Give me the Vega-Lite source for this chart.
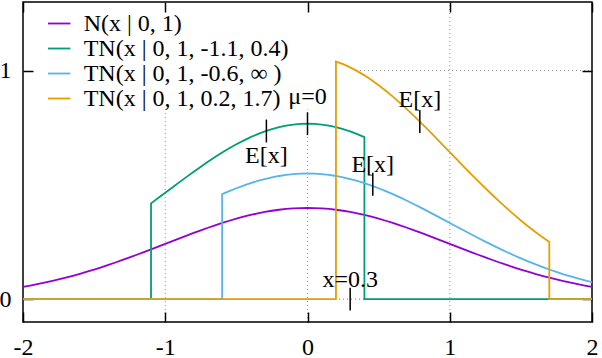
{
  "$schema": "https://vega.github.io/schema/vega-lite/v6.json",
  "width": 569,
  "height": 320,
  "autosize": {"type": "none"},
  "padding": {"left": 23, "top": 2, "right": 10, "bottom": 36},
  "background": "white",
  "view": {"stroke": "black", "strokeWidth": 1.5},
  "config": {
    "font": "Liberation Serif",
    "axis": {"labelFont": "Liberation Serif", "labelFontSize": 24, "labelColor": "black", "tickColor": "black", "tickWidth": 1.5, "grid": false, "domain": false, "labelFlush": false, "labelOverlap": false, "labelBound": false}
  },
  "datasets": {
    "curves": [
      {"s":"a","i":0,"x":-2,"y":0.05399},{"s":"a","i":1,"x":-1.95,"y":0.0596},{"s":"a","i":2,"x":-1.9,"y":0.06562},{"s":"a","i":3,"x":-1.85,"y":0.07207},{"s":"a","i":4,"x":-1.8,"y":0.07895},{"s":"a","i":5,"x":-1.75,"y":0.08628},{"s":"a","i":6,"x":-1.7,"y":0.09405},{"s":"a","i":7,"x":-1.65,"y":0.10227},{"s":"a","i":8,"x":-1.6,"y":0.11092},{"s":"a","i":9,"x":-1.55,"y":0.12001},{"s":"a","i":10,"x":-1.5,"y":0.12952},{"s":"a","i":11,"x":-1.45,"y":0.13943},{"s":"a","i":12,"x":-1.4,"y":0.14973},{"s":"a","i":13,"x":-1.35,"y":0.16038},{"s":"a","i":14,"x":-1.3,"y":0.17137},{"s":"a","i":15,"x":-1.25,"y":0.18265},{"s":"a","i":16,"x":-1.2,"y":0.19419},{"s":"a","i":17,"x":-1.15,"y":0.20594},{"s":"a","i":18,"x":-1.1,"y":0.21785},{"s":"a","i":19,"x":-1.05,"y":0.22988},{"s":"a","i":20,"x":-1,"y":0.24197},{"s":"a","i":21,"x":-0.95,"y":0.25406},{"s":"a","i":22,"x":-0.9,"y":0.26609},{"s":"a","i":23,"x":-0.85,"y":0.27798},{"s":"a","i":24,"x":-0.8,"y":0.28969},{"s":"a","i":25,"x":-0.75,"y":0.30114},{"s":"a","i":26,"x":-0.7,"y":0.31225},{"s":"a","i":27,"x":-0.65,"y":0.32297},{"s":"a","i":28,"x":-0.6,"y":0.33322},{"s":"a","i":29,"x":-0.55,"y":0.34294},{"s":"a","i":30,"x":-0.5,"y":0.35207},{"s":"a","i":31,"x":-0.45,"y":0.36053},{"s":"a","i":32,"x":-0.4,"y":0.36827},{"s":"a","i":33,"x":-0.35,"y":0.37524},{"s":"a","i":34,"x":-0.3,"y":0.38139},{"s":"a","i":35,"x":-0.25,"y":0.38667},{"s":"a","i":36,"x":-0.2,"y":0.39104},{"s":"a","i":37,"x":-0.15,"y":0.39448},{"s":"a","i":38,"x":-0.1,"y":0.39695},{"s":"a","i":39,"x":-0.05,"y":0.39844},{"s":"a","i":40,"x":0,"y":0.39894},{"s":"a","i":41,"x":0.05,"y":0.39844},{"s":"a","i":42,"x":0.1,"y":0.39695},{"s":"a","i":43,"x":0.15,"y":0.39448},{"s":"a","i":44,"x":0.2,"y":0.39104},{"s":"a","i":45,"x":0.25,"y":0.38667},{"s":"a","i":46,"x":0.3,"y":0.38139},{"s":"a","i":47,"x":0.35,"y":0.37524},{"s":"a","i":48,"x":0.4,"y":0.36827},{"s":"a","i":49,"x":0.45,"y":0.36053},{"s":"a","i":50,"x":0.5,"y":0.35207},{"s":"a","i":51,"x":0.55,"y":0.34294},{"s":"a","i":52,"x":0.6,"y":0.33322},{"s":"a","i":53,"x":0.65,"y":0.32297},{"s":"a","i":54,"x":0.7,"y":0.31225},{"s":"a","i":55,"x":0.75,"y":0.30114},{"s":"a","i":56,"x":0.8,"y":0.28969},{"s":"a","i":57,"x":0.85,"y":0.27798},{"s":"a","i":58,"x":0.9,"y":0.26609},{"s":"a","i":59,"x":0.95,"y":0.25406},{"s":"a","i":60,"x":1,"y":0.24197},{"s":"a","i":61,"x":1.05,"y":0.22988},{"s":"a","i":62,"x":1.1,"y":0.21785},{"s":"a","i":63,"x":1.15,"y":0.20594},{"s":"a","i":64,"x":1.2,"y":0.19419},{"s":"a","i":65,"x":1.25,"y":0.18265},{"s":"a","i":66,"x":1.3,"y":0.17137},{"s":"a","i":67,"x":1.35,"y":0.16038},{"s":"a","i":68,"x":1.4,"y":0.14973},{"s":"a","i":69,"x":1.45,"y":0.13943},{"s":"a","i":70,"x":1.5,"y":0.12952},{"s":"a","i":71,"x":1.55,"y":0.12001},{"s":"a","i":72,"x":1.6,"y":0.11092},{"s":"a","i":73,"x":1.65,"y":0.10227},{"s":"a","i":74,"x":1.7,"y":0.09405},{"s":"a","i":75,"x":1.75,"y":0.08628},{"s":"a","i":76,"x":1.8,"y":0.07895},{"s":"a","i":77,"x":1.85,"y":0.07207},{"s":"a","i":78,"x":1.9,"y":0.06562},{"s":"a","i":79,"x":1.95,"y":0.0596},{"s":"a","i":80,"x":2,"y":0.05399},
      {"s":"b","i":0,"x":-2,"y":0},{"s":"b","i":1,"x":-1.1,"y":0},{"s":"b","i":2,"x":-1.1,"y":0.41914},{"s":"b","i":3,"x":-1.05,"y":0.44229},{"s":"b","i":4,"x":-1,"y":0.46555},{"s":"b","i":5,"x":-0.95,"y":0.48881},{"s":"b","i":6,"x":-0.9,"y":0.51195},{"s":"b","i":7,"x":-0.85,"y":0.53483},{"s":"b","i":8,"x":-0.8,"y":0.55736},{"s":"b","i":9,"x":-0.75,"y":0.57939},{"s":"b","i":10,"x":-0.7,"y":0.60076},{"s":"b","i":11,"x":-0.65,"y":0.62139},{"s":"b","i":12,"x":-0.6,"y":0.64111},{"s":"b","i":13,"x":-0.55,"y":0.65981},{"s":"b","i":14,"x":-0.5,"y":0.67738},{"s":"b","i":15,"x":-0.45,"y":0.69365},{"s":"b","i":16,"x":-0.4,"y":0.70854},{"s":"b","i":17,"x":-0.35,"y":0.72195},{"s":"b","i":18,"x":-0.3,"y":0.73379},{"s":"b","i":19,"x":-0.25,"y":0.74395},{"s":"b","i":20,"x":-0.2,"y":0.75235},{"s":"b","i":21,"x":-0.15,"y":0.75897},{"s":"b","i":22,"x":-0.1,"y":0.76372},{"s":"b","i":23,"x":-0.05,"y":0.76659},{"s":"b","i":24,"x":0,"y":0.76755},{"s":"b","i":25,"x":0.05,"y":0.76659},{"s":"b","i":26,"x":0.1,"y":0.76372},{"s":"b","i":27,"x":0.15,"y":0.75897},{"s":"b","i":28,"x":0.2,"y":0.75235},{"s":"b","i":29,"x":0.25,"y":0.74395},{"s":"b","i":30,"x":0.3,"y":0.73379},{"s":"b","i":31,"x":0.35,"y":0.72195},{"s":"b","i":32,"x":0.4,"y":0.70854},{"s":"b","i":33,"x":0.4,"y":0},{"s":"b","i":34,"x":2,"y":0},
      {"s":"c","i":0,"x":-2,"y":0},{"s":"c","i":1,"x":-0.6,"y":0},{"s":"c","i":2,"x":-0.6,"y":0.45914},{"s":"c","i":3,"x":-0.55,"y":0.47253},{"s":"c","i":4,"x":-0.5,"y":0.48511},{"s":"c","i":5,"x":-0.45,"y":0.49677},{"s":"c","i":6,"x":-0.4,"y":0.50744},{"s":"c","i":7,"x":-0.35,"y":0.51704},{"s":"c","i":8,"x":-0.3,"y":0.52551},{"s":"c","i":9,"x":-0.25,"y":0.53279},{"s":"c","i":10,"x":-0.2,"y":0.53881},{"s":"c","i":11,"x":-0.15,"y":0.54355},{"s":"c","i":12,"x":-0.1,"y":0.54695},{"s":"c","i":13,"x":-0.05,"y":0.54901},{"s":"c","i":14,"x":0,"y":0.5497},{"s":"c","i":15,"x":0.05,"y":0.54901},{"s":"c","i":16,"x":0.1,"y":0.54695},{"s":"c","i":17,"x":0.15,"y":0.54355},{"s":"c","i":18,"x":0.2,"y":0.53881},{"s":"c","i":19,"x":0.25,"y":0.53279},{"s":"c","i":20,"x":0.3,"y":0.52551},{"s":"c","i":21,"x":0.35,"y":0.51704},{"s":"c","i":22,"x":0.4,"y":0.50744},{"s":"c","i":23,"x":0.45,"y":0.49677},{"s":"c","i":24,"x":0.5,"y":0.48511},{"s":"c","i":25,"x":0.55,"y":0.47253},{"s":"c","i":26,"x":0.6,"y":0.45914},{"s":"c","i":27,"x":0.65,"y":0.44502},{"s":"c","i":28,"x":0.7,"y":0.43025},{"s":"c","i":29,"x":0.75,"y":0.41494},{"s":"c","i":30,"x":0.8,"y":0.39916},{"s":"c","i":31,"x":0.85,"y":0.38303},{"s":"c","i":32,"x":0.9,"y":0.36664},{"s":"c","i":33,"x":0.95,"y":0.35007},{"s":"c","i":34,"x":1,"y":0.33341},{"s":"c","i":35,"x":1.05,"y":0.31675},{"s":"c","i":36,"x":1.1,"y":0.30017},{"s":"c","i":37,"x":1.15,"y":0.28376},{"s":"c","i":38,"x":1.2,"y":0.26757},{"s":"c","i":39,"x":1.25,"y":0.25167},{"s":"c","i":40,"x":1.3,"y":0.23613},{"s":"c","i":41,"x":1.35,"y":0.22099},{"s":"c","i":42,"x":1.4,"y":0.20631},{"s":"c","i":43,"x":1.45,"y":0.19212},{"s":"c","i":44,"x":1.5,"y":0.17846},{"s":"c","i":45,"x":1.55,"y":0.16536},{"s":"c","i":46,"x":1.6,"y":0.15284},{"s":"c","i":47,"x":1.65,"y":0.14092},{"s":"c","i":48,"x":1.7,"y":0.12959},{"s":"c","i":49,"x":1.75,"y":0.11888},{"s":"c","i":50,"x":1.8,"y":0.10878},{"s":"c","i":51,"x":1.85,"y":0.0993},{"s":"c","i":52,"x":1.9,"y":0.09042},{"s":"c","i":53,"x":1.95,"y":0.08212},{"s":"c","i":54,"x":2,"y":0.07439},
      {"s":"d","i":0,"x":-2,"y":0},{"s":"d","i":1,"x":0.2,"y":0},{"s":"d","i":2,"x":0.2,"y":1.03952},{"s":"d","i":3,"x":0.25,"y":1.0279},{"s":"d","i":4,"x":0.3,"y":1.01386},{"s":"d","i":5,"x":0.35,"y":0.99751},{"s":"d","i":6,"x":0.4,"y":0.97899},{"s":"d","i":7,"x":0.45,"y":0.95841},{"s":"d","i":8,"x":0.5,"y":0.93592},{"s":"d","i":9,"x":0.55,"y":0.91165},{"s":"d","i":10,"x":0.6,"y":0.88581},{"s":"d","i":11,"x":0.65,"y":0.85856},{"s":"d","i":12,"x":0.7,"y":0.83007},{"s":"d","i":13,"x":0.75,"y":0.80053},{"s":"d","i":14,"x":0.8,"y":0.77009},{"s":"d","i":15,"x":0.85,"y":0.73896},{"s":"d","i":16,"x":0.9,"y":0.70736},{"s":"d","i":17,"x":0.95,"y":0.67538},{"s":"d","i":18,"x":1,"y":0.64324},{"s":"d","i":19,"x":1.05,"y":0.6111},{"s":"d","i":20,"x":1.1,"y":0.57912},{"s":"d","i":21,"x":1.15,"y":0.54746},{"s":"d","i":22,"x":1.2,"y":0.51622},{"s":"d","i":23,"x":1.25,"y":0.48555},{"s":"d","i":24,"x":1.3,"y":0.45556},{"s":"d","i":25,"x":1.35,"y":0.42634},{"s":"d","i":26,"x":1.4,"y":0.39803},{"s":"d","i":27,"x":1.45,"y":0.37065},{"s":"d","i":28,"x":1.5,"y":0.34431},{"s":"d","i":29,"x":1.55,"y":0.31903},{"s":"d","i":30,"x":1.6,"y":0.29486},{"s":"d","i":31,"x":1.65,"y":0.27187},{"s":"d","i":32,"x":1.7,"y":0.25002},{"s":"d","i":33,"x":1.7,"y":0},{"s":"d","i":34,"x":2,"y":0}
    ],
    "vgrid": [
      {"x": -1, "y1": -0.1, "y2": 0.83},
      {"x": 0, "y1": -0.1, "y2": 0.83},
      {"x": 1, "y1": -0.1, "y2": 1.3}
    ],
    "hgrid": [
      {"y": 0, "x1": -2, "x2": 2},
      {"y": 1, "x1": 0.37, "x2": 2}
    ],
    "ticks": [
      {"x": 0, "y1": 0.7176, "y2": 0.8176},
      {"x": -0.289, "y1": 0.6857, "y2": 0.7857},
      {"x": 0.459, "y1": 0.4527, "y2": 0.5527},
      {"x": 0.7895, "y1": 0.7266, "y2": 0.8266},
      {"x": 0.3, "y1": -0.05, "y2": 0.05}
    ],
    "labels": [
      {"x": 0, "y": 0.853, "t": "μ=0"},
      {"x": -0.289, "y": 0.595, "t": "E[x]"},
      {"x": 0.459, "y": 0.555, "t": "E[x]"},
      {"x": 0.7895, "y": 0.842, "t": "E[x]"},
      {"x": 0.3, "y": 0.054, "t": "x=0.3"}
    ]
  },
  "layer": [
    {
      "data": {"name": "vgrid"},
      "mark": {"type": "rule", "color": "#000000", "opacity": 0.4, "strokeWidth": 1, "strokeDash": [1, 3]},
      "encoding": {
        "x": {"field": "x", "type": "quantitative", "scale": {"domain": [-2, 2], "nice": false, "zero": false}, "title": null,
              "axis": {"orient": "bottom", "values": [-2, -1, 0, 1, 2], "labels": false, "ticks": true, "tickSize": -10}},
        "y": {"field": "y1", "type": "quantitative", "scale": {"domain": [-0.1, 1.3], "nice": false, "zero": false}, "title": null, "axis": null},
        "y2": {"field": "y2"}
      }
    },
    {
      "data": {"name": "hgrid"},
      "mark": {"type": "rule", "color": "#000000", "opacity": 0.5, "strokeWidth": 1, "strokeDash": [1, 3]},
      "encoding": {
        "y": {"field": "y", "type": "quantitative", "title": null,
              "axis": {"orient": "left", "values": [0, 1], "labels": false, "ticks": true, "tickSize": -10}},
        "x": {"field": "x1", "type": "quantitative", "title": null, "axis": null},
        "x2": {"field": "x2"}
      }
    },
    {
      "data": {"name": "curves"},
      "mark": {"type": "line", "strokeWidth": 1.8, "strokeCap": "butt", "strokeJoin": "miter"},
      "encoding": {
        "x": {"field": "x", "type": "quantitative", "title": null,
              "axis": {"orient": "bottom", "values": [-2, -1, 0, 1, 2], "ticks": false, "labelPadding": 13, "labelExpr": "datum.value + ''"}},
        "y": {"field": "y", "type": "quantitative", "title": null,
              "axis": {"orient": "left", "values": [0, 1], "ticks": false, "labelPadding": 12, "labelExpr": "datum.value + ''"}},
        "order": {"field": "i", "type": "quantitative"},
        "color": {"field": "s", "type": "nominal",
                  "scale": {"domain": ["a", "b", "c", "d"], "range": ["#9400d3", "#009e73", "#56b4e9", "#e69f00"]},
                  "legend": {"orient": "none", "legendX": 23.7, "legendY": 9, "title": null, "symbolType": "stroke", "symbolSize": 500, "symbolStrokeWidth": 1.8, "labelFont": "Liberation Serif", "labelFontSize": 24, "labelColor": "black", "labelOffset": 12, "rowPadding": 0, "padding": 0, "labelLimit": 400,
                             "labelExpr": "datum.value == 'a' ? 'N(x | 0, 1)' : datum.value == 'b' ? 'TN(x | 0, 1, -1.1, 0.4)' : datum.value == 'c' ? 'TN(x | 0, 1, -0.6, ∞ )' : 'TN(x | 0, 1, 0.2, 1.7)'"}}
      }
    },
    {
      "data": {"name": "ticks"},
      "mark": {"type": "rule", "color": "black", "strokeWidth": 1.5},
      "encoding": {
        "x": {"field": "x", "type": "quantitative", "title": null,
              "axis": {"orient": "top", "values": [-2, -1, 0, 1, 2], "labels": false, "ticks": true, "tickSize": -10}},
        "y": {"field": "y1", "type": "quantitative", "title": null, "axis": null},
        "y2": {"field": "y2"}
      }
    },
    {
      "data": {"name": "labels"},
      "mark": {"type": "text", "font": "Liberation Serif", "fontSize": 24, "color": "black", "align": "center", "baseline": "alphabetic"},
      "encoding": {
        "x": {"field": "x", "type": "quantitative", "title": null, "axis": null},
        "y": {"field": "y", "type": "quantitative", "title": null,
              "axis": {"orient": "right", "values": [0, 1], "labels": false, "ticks": true, "tickSize": -10}},
        "text": {"field": "t"}
      }
    }
  ],
  "resolve": {"axis": {"x": "independent", "y": "independent"}}
}
